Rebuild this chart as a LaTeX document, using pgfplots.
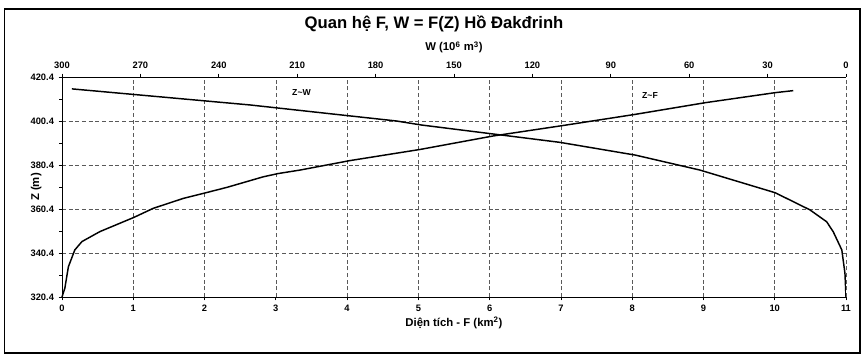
\documentclass[border=0pt]{standalone}
\usepackage{pgfplots}
\pgfplotsset{compat=1.18}
\usepackage{fontspec}
\setmainfont{Liberation Sans}
\begin{document}
\begin{tikzpicture}
\path[use as bounding box] (0pt,0pt) rectangle (648pt,270.75pt);
\draw[line width=0.8pt] (3.5pt,6pt) rectangle (645pt,264pt);
\node[font=\fontsize{12.5}{14}\selectfont\bfseries] at (325.5pt,253pt) {Quan hệ F, W = F(Z) Hồ Đakđrinh};
\begin{axis}[
  at={(46.5pt,48pt)}, anchor=south west,
  width=588pt, height=165pt, scale only axis,
  xmin=0, xmax=11, ymin=320.4, ymax=420.4,
  axis x line*=bottom, axis y line*=left,
  xtick={0,1,...,11},
  ytick={320.4,340.4,360.4,380.4,400.4,420.4},
  minor ytick={330.4,350.4,370.4,390.4,410.4},
  tick align=outside, major tick length=2.5pt, minor tick length=2pt,
  tick style={black, line width=0.5pt},
  grid=major,
  major grid style={densely dashed, gray!70!black, line width=0.4pt},
  /pgf/number format/assume math mode=true,
  ticklabel style={font=\fontsize{7}{8}\selectfont\bfseries},
  yticklabel style={/pgf/number format/.cd, fixed, fixed zerofill, precision=1},
  xlabel={Diện tích - F (km\textsuperscript{2})},
  ylabel={Z (m)},
  label style={font=\fontsize{8.5}{10}\selectfont\bfseries},
  xlabel style={yshift=3pt},
  ylabel style={yshift=-15pt},
  axis line style={line width=0.7pt},
  clip=false,
]
\addplot[black, line width=1.1pt] coordinates {
(0,320.4) (0.04,324.4) (0.09,334.2) (0.18,341.8) (0.28,345.6) (0.53,350.1)
(1.01,356.6) (1.28,360.7) (1.70,365.2) (2.02,367.8) (2.31,370.2) (2.64,373.3)
(2.82,375.0) (3.03,376.5) (3.34,378.1) (4.04,382.4) (5.03,387.5) (6.05,393.6)
(7.02,398.3) (8.04,403.4) (9.02,408.7) (10.01,413.3) (10.26,414.2)
};
\node[font=\fontsize{6.5}{7}\selectfont\bfseries] at (axis cs:3.36,413.5) {Z\textasciitilde W};
\node[font=\fontsize{6.5}{7}\selectfont\bfseries] at (axis cs:8.25,411.8) {Z\textasciitilde F};
\end{axis}
\begin{axis}[
  at={(46.5pt,48pt)}, anchor=south west,
  width=588pt, height=165pt, scale only axis,
  xmin=0, xmax=300, ymin=320.4, ymax=420.4,
  x dir=reverse,
  axis x line*=top, axis y line=none,
  xtick={0,30,...,300},
  tick align=outside, major tick length=2.5pt,
  tick style={black, line width=0.5pt},
  /pgf/number format/assume math mode=true,
  ticklabel style={font=\fontsize{7}{8}\selectfont\bfseries},
  xlabel={W (10\textsuperscript{6} m\textsuperscript{3})},
  label style={font=\fontsize{8.5}{10}\selectfont\bfseries},
  axis line style={line width=0.7pt},
]
\addplot[black, line width=1.1pt] coordinates {
(296.2,415.0) (228.1,407.7) (172,400.4) (162.6,398.6) (109.5,390.7)
(80.6,384.9) (55.9,378.1) (27.1,367.8) (13.8,360.0) (7.4,354.6) (4.9,350.1)
(1.6,341.8) (0.4,331.2) (0,320.4)
};
\end{axis}
\end{tikzpicture}
\end{document}
